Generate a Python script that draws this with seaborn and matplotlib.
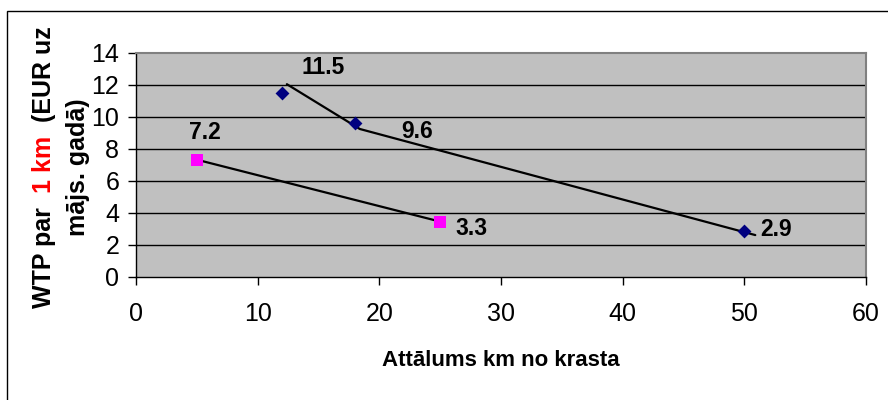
import matplotlib
matplotlib.use("Agg")
import matplotlib.pyplot as plt
import seaborn as sns
import pandas as pd
from matplotlib.patches import Rectangle

# ---- data ----
blue_x = [12, 18, 50]
blue_y = [11.5, 9.6, 2.9]
pink_x = [5, 25]
pink_y = [7.3, 3.45]

# hand-drawn trend lines (as in the original figure)
blue_line_x = [12.4, 18.4, 50.9]
blue_line_y = [12.05, 9.25, 2.62]
pink_line_x = [4.85, 24.7]
pink_line_y = [7.36, 3.52]

# data label texts and their positions
label_texts = ["11.5", "9.6", "2.9", "7.2", "3.3"]
label_x = [15.4, 23.1, 52.6, 5.7, 27.6]
label_y = [13.1, 9.08, 2.94, 9.06, 3.04]

x_ticks = [0, 10, 20, 30, 40, 50, 60]
y_ticks = [0, 2, 4, 6, 8, 10, 12, 14]

xlabel = "Attālums km no krasta"
ylabel_line1 = [("WTP par", "black"), ("  1 km", "#FF0000"), ("  (EUR uz", "black")]
ylabel_line2 = "mājs. gadā)"

sns.set_theme(style="white")
plt.rcParams["font.family"] = ["Liberation Sans", "DejaVu Sans"]

W, H = 888, 400
fig = plt.figure(figsize=(W / 100, H / 100), dpi=100)
fig.patch.set_facecolor("white")

L, R, T, B = 136, 866, 53, 277
ax = fig.add_axes([L / W, 1 - B / H, (R - L) / W, (B - T) / H])
ax.set_facecolor("#C0C0C0")

# grid lines
for yv in y_ticks[1:-1]:
    ax.axhline(yv, color="black", lw=1.0, zorder=1)

blue_df = pd.DataFrame({"x": blue_x, "y": blue_y})
pink_df = pd.DataFrame({"x": pink_x, "y": pink_y})

sns.lineplot(x=blue_line_x, y=blue_line_y, sort=False, estimator=None,
             color="black", lw=1.6, ax=ax, zorder=3)
sns.lineplot(x=pink_line_x, y=pink_line_y, sort=False, estimator=None,
             color="black", lw=1.6, ax=ax, zorder=3)
sns.scatterplot(data=blue_df, x="x", y="y", marker="D", s=50, color="#000080",
                edgecolor="#000080", linewidth=0, ax=ax, zorder=4)
sns.scatterplot(data=pink_df, x="x", y="y", marker="s", s=66, color="#FF00FF",
                edgecolor="#FF00FF", linewidth=0, ax=ax, zorder=4)

for t, xx, yy in zip(label_texts, label_x, label_y):
    ax.text(xx, yy, t, ha="center", va="center", fontsize=16.5,
            fontweight="bold", color="black", zorder=5)

ax.set_xlim(0, 60)
ax.set_ylim(0, 14)
ax.set_xticks(x_ticks)
ax.set_yticks(y_ticks)
ax.set_xlabel("")
ax.set_ylabel("")
tick_font = ["Liberation Sans Narrow", "Liberation Sans", "DejaVu Sans"]
ax.set_xticklabels([str(v) for v in x_ticks], family=tick_font, fontsize=18)
ax.set_yticklabels([str(v) for v in y_ticks], family=tick_font, fontsize=18)
ax.tick_params(axis="both", direction="out", length=6, width=1, color="black",
               colors="black", left=True, bottom=True, pad=6)
ax.tick_params(axis="x", pad=12)

for s in ["left", "bottom"]:
    ax.spines[s].set_color("black")
    ax.spines[s].set_linewidth(1.0)
for s in ["top", "right"]:
    ax.spines[s].set_color("#808080")
    ax.spines[s].set_linewidth(1.5)
for s in ax.spines.values():
    s.set_visible(True)

# x label
fig.text((L + R) / 2 / W, 1 - 361 / H, xlabel, ha="center", va="center",
         fontsize=16, fontweight="bold", color="black")

# y label (multi-coloured first line)
fig.canvas.draw()
rend = fig.canvas.get_renderer()
widths = []
for txt, col in ylabel_line1:
    tt = fig.text(0, 0, txt, fontsize=18, fontweight="bold")
    widths.append(tt.get_window_extent(rend).width)
    tt.remove()
total = sum(widths)
yc = H - 167
start = yc - total / 2
cum = 0
for (txt, col), w in zip(ylabel_line1, widths):
    fig.text(44 / W, (start + cum) / H, txt, rotation=90, rotation_mode="anchor",
             ha="left", va="center", fontsize=18, fontweight="bold", color=col)
    cum += w
fig.text(78 / W, yc / H, ylabel_line2, rotation=90, rotation_mode="anchor",
         ha="center", va="center", fontsize=18, fontweight="bold", color="black")

# outer chart border
fig.patches.append(Rectangle((7 / W, -0.1), 2, 1 - 11 / H + 0.1, fill=False,
                             ec="black", lw=1.0, transform=fig.transFigure,
                             figure=fig))

fig.savefig("out.png", dpi=100)
